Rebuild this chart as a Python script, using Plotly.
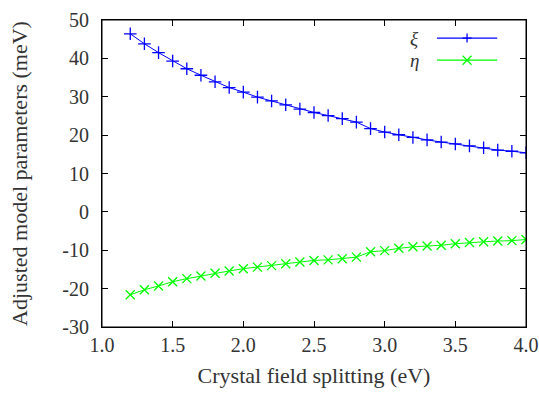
import plotly.graph_objects as go

crystal_field = [1.2, 1.3, 1.4, 1.5, 1.6, 1.7, 1.8, 1.9, 2.0, 2.1, 2.2, 2.3, 2.4, 2.5,
                 2.6, 2.7, 2.8, 2.9, 3.0, 3.1, 3.2, 3.3, 3.4, 3.5, 3.6, 3.7, 3.8, 3.9, 4.0]
xi = [46.4, 43.8, 41.5, 39.3, 37.3, 35.6, 33.9, 32.4, 31.2, 29.9, 28.9, 27.9, 26.8, 25.9,
      25.1, 24.3, 23.4, 21.7, 20.8, 20.1, 19.4, 18.75, 18.2, 17.7, 17.2, 16.7, 16.1, 15.8, 15.4]
eta = [-21.6, -20.3, -19.3, -18.2, -17.4, -16.7, -16.0, -15.4, -14.8, -14.4, -14.0, -13.5, -13.05, -12.65,
       -12.5, -12.2, -11.8, -10.4, -10.1, -9.5, -9.1, -8.9, -8.7, -8.3, -8.0, -7.8, -7.6, -7.5, -7.2]

series_names = ["ξ", "η"]
series_colors = ["#0000ff", "#00ff00"]

x_tickvals = [1.0, 1.5, 2.0, 2.5, 3.0, 3.5, 4.0]
x_ticktext = ["1.0", "1.5", "2.0", "2.5", "3.0", "3.5", "4.0"]
y_tickvals = [-30, -20, -10, 0, 10, 20, 30, 40, 50]
y_ticktext = ["-30", "-20", "-10", "0", "10", "20", "30", "40", "50"]

FONT = "Liberation Serif"
TXT = "#333333"

fig = go.Figure()
fig.add_trace(go.Scatter(
    x=crystal_field, y=xi, name=series_names[0], mode="lines+markers", showlegend=False,
    line=dict(color=series_colors[0], width=1),
    marker=dict(symbol="cross-thin-open", size=9, line=dict(color=series_colors[0], width=1.3)),
))
fig.add_trace(go.Scatter(
    x=crystal_field, y=eta, name=series_names[1], mode="lines+markers", showlegend=False,
    line=dict(color=series_colors[1], width=1),
    marker=dict(symbol="x-thin-open", size=9, line=dict(color=series_colors[1], width=1.3)),
))

axis_common = dict(
    showline=True, linecolor="black", linewidth=1, mirror="ticks",
    ticks="inside", ticklen=6, tickcolor="black", tickwidth=1,
    showgrid=False, zeroline=False, automargin=False,
    ticklabeloverflow="allow",
    tickfont=dict(family=FONT, size=20, color=TXT),
)

fig.update_xaxes(
    range=[1.0, 4.0], tickvals=x_tickvals, ticktext=x_ticktext,
    title=dict(text="Crystal field splitting (eV)", font=dict(family=FONT, size=22, color=TXT), standoff=12),
    **axis_common,
)
fig.update_yaxes(
    range=[-30, 50], tickvals=y_tickvals, ticktext=y_ticktext,
    ticklabelstandoff=8,
    title=dict(text="Adjusted model parameters (meV)", font=dict(family=FONT, size=22, color=TXT), standoff=28),
    **axis_common,
)

# Legend key drawn gnuplot-style (label left, sample right), in paper coordinates
PLOT_W, PLOT_H = 424.0, 307.0
rows_y = [0.941, 0.869]
text_x = 0.752
line_x0, line_x1, mark_x = 0.790, 0.932, 0.861
dx, dy = 4.5 / PLOT_W, 4.5 / PLOT_H
shapes = [dict(type="rect", xref="paper", yref="paper", x0=0, x1=1, y0=0, y1=1,
               line=dict(color="black", width=1), layer="above")]
annotations = []
for i, (nm, col) in enumerate(zip(series_names, series_colors)):
    yy = rows_y[i]
    annotations.append(dict(xref="paper", yref="paper", x=text_x, y=yy, xanchor="right", yanchor="middle",
                            text="<i>" + nm + "</i>", showarrow=False,
                            font=dict(family=FONT, size=19, color=TXT)))
    shapes.append(dict(type="line", xref="paper", yref="paper", x0=line_x0, x1=line_x1, y0=yy, y1=yy,
                       line=dict(color=col, width=1.3)))
    if i == 0:
        shapes.append(dict(type="line", xref="paper", yref="paper", x0=mark_x - dx, x1=mark_x + dx, y0=yy, y1=yy,
                           line=dict(color=col, width=1.3)))
        shapes.append(dict(type="line", xref="paper", yref="paper", x0=mark_x, x1=mark_x, y0=yy - dy, y1=yy + dy,
                           line=dict(color=col, width=1.3)))
    else:
        shapes.append(dict(type="line", xref="paper", yref="paper", x0=mark_x - dx, x1=mark_x + dx,
                           y0=yy - dy, y1=yy + dy, line=dict(color=col, width=1.3)))
        shapes.append(dict(type="line", xref="paper", yref="paper", x0=mark_x - dx, x1=mark_x + dx,
                           y0=yy + dy, y1=yy - dy, line=dict(color=col, width=1.3)))

fig.update_layout(
    width=539, height=399,
    margin=dict(l=102, r=13, t=20, b=72),
    paper_bgcolor="white", plot_bgcolor="white",
    showlegend=False,
    shapes=shapes, annotations=annotations,
)

fig.write_html("out.html")
